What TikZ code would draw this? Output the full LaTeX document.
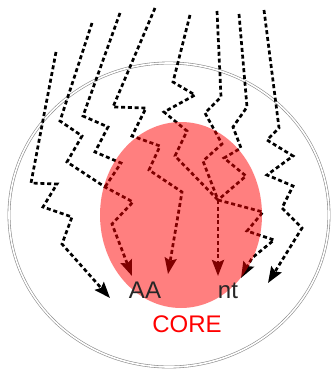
\documentclass[tikz,border=0pt]{standalone}
\usepackage{fontspec}
\setmainfont{Liberation Sans}
\usetikzlibrary{arrows.meta,shapes.geometric}
\begin{document}
\begin{tikzpicture}[x=1pt,y=-1pt,
  ray/.style={line width=2.7pt, dash pattern=on 4pt off 2.8pt, black},
  rayarrow/.style={ray, -{Stealth[length=16pt,width=12pt,inset=2.5pt]}},
  lbl/.style={font=\fontsize{24}{28}\selectfont, text=black!85, inner sep=0pt, anchor=base}]
\useasboundingbox (0,0) rectangle (334,369);
% cell outline
\node[ellipse, draw=gray!90, double=white, double distance=1.6pt, line width=0.6pt,
      minimum width=320pt, minimum height=304pt, inner sep=0pt] (cell) at (169,215) {};
% named points
\coordinate (s1) at (56,52);
\coordinate (s2) at (92,23);
\coordinate (s3) at (120,13);
\coordinate (s4) at (155,8);
\coordinate (s5) at (190,15);
\coordinate (s6) at (217,11);
\coordinate (s7) at (239,14);
\coordinate (s8) at (264,10);
\coordinate (m1) at (105,187);
\coordinate (hub) at (218,200);
\coordinate (e1) at (110,298);
\coordinate (e2) at (132,276);
\coordinate (e4) at (168,274);
\coordinate (e6) at (218,276);
\coordinate (e7) at (241,278);
\coordinate (e8) at (268,283);
% rays
\draw[rayarrow] (s1) -- (31,183) -- (57,184) -- (43,207) -- (72,217) -- (62,244) -- (e1);
\draw[rayarrow] (s2) -- (60,121) -- (82,136) -- (67,162) -- (m1) -- (133,202) -- (112,224) -- (e2);
\draw[ray] (s3) -- (83,116) -- (108,127) -- (95,152) -- (121,163) -- (m1);
\draw[rayarrow] (s4) -- (113,107) -- (146,108) -- (132,136) -- (160,146) -- (149,170) -- (182,192) -- (e4);
\draw[ray] (s5) -- (173,82) -- (195,95) -- (164,112) -- (187,131) -- (175,156) -- (hub);
\draw[ray] (s6) -- (221,97) -- (205,113) -- (222,144) -- (203,161) -- (hub);
\draw[ray] (s7) -- (247,107) -- (233,127) -- (241,148) -- (224,158) -- (246,176) -- (hub);
\draw[rayarrow] (s8) -- (279,128) -- (267,140) -- (293,156) -- (267,175) -- (293,186) -- (282,208) -- (302,228) -- (e8);
\draw[rayarrow] (hub) -- (e6);
\draw[rayarrow] (hub) -- (263,212) -- (247,231) -- (274,240) -- (252,258) -- (e7);
% core
\node[ellipse, fill=red, fill opacity=0.5, minimum width=162pt, minimum height=186pt, inner sep=0pt] (core) at (181,215) {};
% labels
\node[lbl] (aa) at (145,298) {AA};
\node[lbl] (nt) at (228,298) {nt};
\node[lbl, text=red] (corelbl) at (187,332) {CORE};
\end{tikzpicture}
\end{document}
